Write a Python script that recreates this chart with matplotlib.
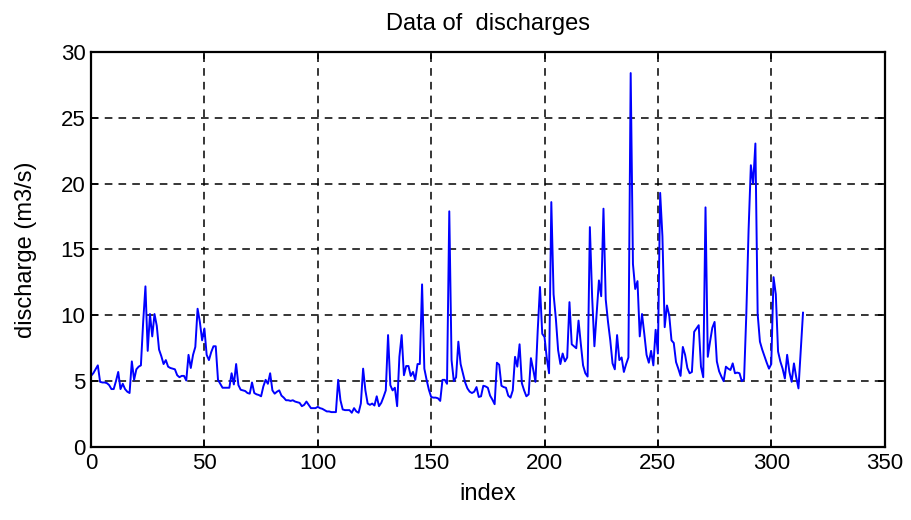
import numpy as np
import matplotlib
matplotlib.use('Agg')
from matplotlib import pyplot as plt

# discharge values, index 0..314
discharge = [
    5.4, 5.6, 5.9, 6.2, 4.95, 4.9, 4.9, 4.85, 4.7, 4.4,
    4.4, 5.0, 5.7, 4.4, 4.8, 4.4, 4.2, 4.1, 6.5, 5.1,
    5.9, 6.1, 6.2, 9.5, 12.2, 7.3, 10.1, 8.4, 10.1, 9.2,
    7.4, 6.9, 6.3, 6.6, 6.1, 6.0, 5.95, 5.9, 5.45, 5.3,
    5.4, 5.4, 5.05, 7.0, 6.0, 7.0, 7.6, 10.5, 9.5, 8.1,
    9.0, 7.0, 6.6, 7.2, 7.65, 7.65, 5.1, 4.8, 4.5, 4.5,
    4.5, 4.5, 5.6, 4.75, 6.3, 4.7, 4.35, 4.3, 4.25, 4.1,
    4.05, 4.9, 4.1, 4.0, 3.95, 3.85, 4.6, 5.1, 4.8, 5.6,
    4.3, 4.05, 4.2, 4.3, 3.9, 3.75, 3.55, 3.55, 3.5, 3.55,
    3.45, 3.4, 3.35, 3.1, 3.2, 3.45, 3.2, 2.95, 2.95, 2.95,
    3.05, 2.95, 2.9, 2.8, 2.7, 2.7, 2.65, 2.65, 2.65, 5.1,
    3.55, 2.85, 2.8, 2.8, 2.8, 2.6, 2.95, 2.7, 2.6, 3.3,
    5.95, 4.3, 3.3, 3.2, 3.3, 3.15, 3.85, 3.1, 3.35, 3.8,
    4.3, 8.5, 4.7, 4.3, 4.5, 3.1, 6.85, 8.5, 5.45, 6.15,
    6.15, 5.4, 5.7, 5.1, 6.3, 6.3, 12.35, 5.95, 5.1, 4.35,
    3.8, 3.75, 3.75, 3.7, 3.5, 5.1, 5.1, 4.8, 17.9, 6.6,
    5.0, 5.3, 8.0, 6.3, 5.6, 4.9, 4.45, 4.2, 4.1, 4.2,
    4.55, 3.8, 3.85, 4.65, 4.6, 4.5, 3.9, 3.6, 3.25, 6.4,
    6.25, 4.65, 4.55, 4.5, 3.9, 3.75, 4.3, 6.85, 6.1, 7.8,
    4.85, 4.3, 3.85, 4.0, 6.75, 5.9, 4.95, 8.85, 12.15, 8.6,
    8.35, 6.75, 5.6, 18.6, 11.6, 9.75, 7.35, 6.3, 7.1, 6.5,
    6.8, 11.0, 7.8, 7.65, 7.5, 9.6, 7.85, 6.2, 5.6, 5.35,
    16.7, 11.4, 7.65, 10.1, 12.65, 11.45, 18.1, 11.2, 9.5, 8.1,
    6.35, 5.9, 8.5, 6.6, 6.8, 5.7, 6.3, 6.8, 28.4, 13.9,
    12.0, 12.6, 8.4, 10.1, 8.6, 7.0, 6.4, 7.3, 6.2, 8.9,
    7.1, 19.3, 16.0, 9.1, 10.75, 10.0, 8.1, 7.9, 6.45, 5.95,
    5.4, 7.6, 7.0, 6.0, 5.6, 5.7, 8.75, 9.0, 9.25, 6.1,
    5.3, 18.2, 6.85, 8.0, 9.05, 9.5, 6.5, 5.75, 5.35, 5.0,
    6.1, 5.95, 5.85, 6.35, 5.6, 5.65, 5.6, 5.0, 5.15, 10.1,
    16.5, 21.4, 20.0, 23.05, 10.1, 8.0, 7.4, 6.9, 6.4, 5.95,
    6.3, 12.9, 11.6, 7.25, 6.5, 5.95, 5.2, 7.0, 5.7, 4.95,
    6.35, 5.3, 4.45, 7.3, 10.2,
]
index = np.arange(len(discharge))

x_ticks = [0, 50, 100, 150, 200, 250, 300, 350]
y_ticks = [0, 5, 10, 15, 20, 25, 30]

plt.rcParams['font.family'] = ['Liberation Sans', 'DejaVu Sans']

fig = plt.figure(figsize=(9.12, 5.2), dpi=100)
ax = fig.add_axes([0.0998, 0.1404, 0.8702, 0.7596])

ax.plot(index, discharge, color='#0000ff', lw=1.4)

ax.set_xlim(0, 350)
ax.set_ylim(0, 30)
ax.set_xticks(x_ticks)
ax.set_yticks(y_ticks)
ax.grid(True, color='black', linestyle=(0, (5, 4)), lw=1.1)
ax.tick_params(direction='in', length=5, width=1.2, top=True, right=True,
               labelsize=16, pad=4)
for s in ax.spines.values():
    s.set_linewidth(1.6)

ax.set_title('Data of  discharges', fontsize=17, pad=16)
ax.set_xlabel('index', fontsize=17, labelpad=7)
ax.set_ylabel('discharge (m3/s)', fontsize=17, labelpad=17)

fig.savefig('out.png', dpi=100)
